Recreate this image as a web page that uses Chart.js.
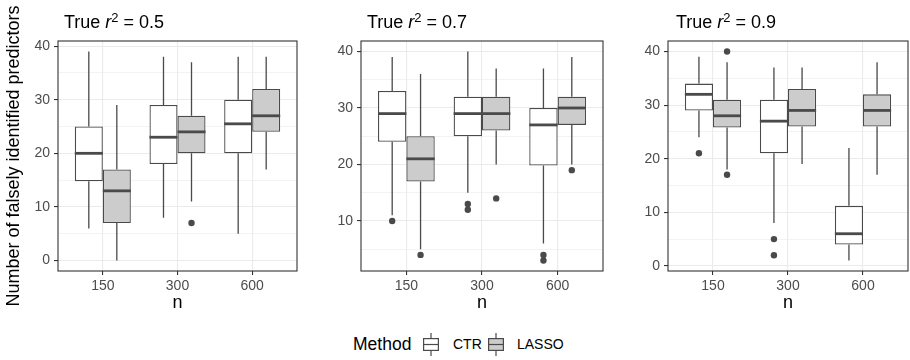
<!DOCTYPE html>
<html>
<head>
<meta charset="utf-8">
<script src="https://cdn.jsdelivr.net/npm/chart.js@4.4.1/dist/chart.umd.min.js"></script>
<style>
    body { margin: 0; background: #fff; font-family: "Liberation Sans", Arial, sans-serif; }
    #page { position: relative; width: 910px; height: 360px; overflow: hidden; }
    canvas { position: absolute; top: 0; }
    .ttl { position: absolute; top: 13px; font-size: 18px; line-height: 18px; color: #000; white-space: nowrap; }
    .ttl sup { font-size: 0.72em; line-height: 0; vertical-align: 0.48em; }
    .leg { position: absolute; white-space: nowrap; color: #000; }
</style>
</head>
<body>
<div id="page">
    <canvas id="p1" width="300" height="320" style="left:0px"></canvas>
    <canvas id="p2" width="306" height="320" style="left:300px"></canvas>
    <canvas id="p3" width="304" height="320" style="left:606px"></canvas>
    <div class="ttl" style="left:64px">True <i>r</i><sup>2</sup> = 0.5</div>
    <div class="ttl" style="left:367px">True <i>r</i><sup>2</sup> = 0.7</div>
    <div class="ttl" style="left:676px">True <i>r</i><sup>2</sup> = 0.9</div>

    <div class="leg" style="left:353px; top:334px; font-size:17.5px; line-height:20px">Method</div>
    <svg class="leg" style="left:422px; top:333px" width="18" height="23">
        <line x1="9" y1="0" x2="9" y2="23" stroke="#4a4a4a" stroke-width="1.2"/>
        <rect x="1.6" y="5.6" width="14.8" height="11.8" fill="#ffffff" stroke="#4a4a4a" stroke-width="1.2"/>
        <line x1="1.6" y1="11.5" x2="16.4" y2="11.5" stroke="#4a4a4a" stroke-width="1.2"/>
    </svg>
    <div class="leg" style="left:453px; top:336px; font-size:14px; line-height:16px">CTR</div>
    <svg class="leg" style="left:487px; top:333px" width="18" height="23">
        <line x1="9" y1="0" x2="9" y2="23" stroke="#4a4a4a" stroke-width="1.2"/>
        <rect x="1.6" y="5.6" width="14.8" height="11.8" fill="#cccccc" stroke="#4a4a4a" stroke-width="1.2"/>
        <line x1="1.6" y1="11.5" x2="16.4" y2="11.5" stroke="#4a4a4a" stroke-width="1.2"/>
    </svg>
    <div class="leg" style="left:517px; top:336px; font-size:14px; line-height:16px">LASSO</div>
</div>

<script>
const categories = ['150', '300', '600'];
const catPos = [1, 2, 3];
const methodNames = ['CTR', 'LASSO'];
const methodFills = ['#ffffff', '#cccccc'];

// per n: [lower whisker, Q1, median, Q3, upper whisker]
const ctr05 = [[6, 14.8, 20, 25, 39], [8, 18, 23, 29, 38], [5, 20, 25.5, 30, 38]];
const lasso05 = [[0, 7, 13, 17, 29], [11, 20, 24, 27, 37], [17, 24, 27, 32, 38]];
const ctrOut05 = [[], [], []];
const lassoOut05 = [[], [7], []];

const ctr07 = [[11, 24, 29, 33, 39], [15, 25, 29, 32, 40], [6, 19.8, 27, 30, 37]];
const lasso07 = [[5, 17, 21, 25, 36], [20, 26, 29, 32, 37], [20, 27, 30, 32, 39]];
const ctrOut07 = [[10], [13, 12], [4, 3]];
const lassoOut07 = [[4], [14], [19]];

const ctr09 = [[24, 29, 32, 34, 39], [8, 21, 27, 31, 37], [1, 4, 6, 11.2, 22]];
const lasso09 = [[18, 25.8, 28, 31, 38], [19, 26, 29, 33, 37], [17, 26, 29, 32, 38]];
const ctrOut09 = [[21], [5, 2], []];
const lassoOut09 = [[40, 17], [], []];

const yMajor05 = [0, 10, 20, 30, 40];
const yMajor07 = [10, 20, 30, 40];
const yMajor09 = [0, 10, 20, 30, 40];
const yMinor = [5, 15, 25, 35];

const lineColor = '#4a4a4a';
const frameColor = '#333333';
const gridColor = '#ebebeb';
const fontFamily = '"Liberation Sans", Arial, sans-serif';

const boxplotParts = {
    id: 'boxplotParts',
    afterDatasetsDraw(chart) {
        const ctx = chart.ctx;
        const y = chart.scales.y;
        chart.data.datasets.forEach((ds, i) => {
            const meta = chart.getDatasetMeta(i);
            meta.data.forEach((bar, j) => {
                const s = ds.stats[j];
                const x = bar.x;
                const half = bar.width / 2;
                ctx.save();
                ctx.strokeStyle = lineColor;
                ctx.lineWidth = 1.3;
                ctx.beginPath();
                ctx.moveTo(x, y.getPixelForValue(s[0]));
                ctx.lineTo(x, y.getPixelForValue(s[1]));
                ctx.moveTo(x, y.getPixelForValue(s[3]));
                ctx.lineTo(x, y.getPixelForValue(s[4]));
                ctx.stroke();
                ctx.lineWidth = 2.8;
                ctx.beginPath();
                ctx.moveTo(x - half, y.getPixelForValue(s[2]));
                ctx.lineTo(x + half, y.getPixelForValue(s[2]));
                ctx.stroke();
                ctx.fillStyle = lineColor;
                ds.outliers[j].forEach(v => {
                    ctx.beginPath();
                    ctx.arc(x, y.getPixelForValue(v), 3.2, 0, Math.PI * 2);
                    ctx.fill();
                });
                ctx.restore();
            });
        });
        const a = chart.chartArea;
        ctx.save();
        ctx.strokeStyle = frameColor;
        ctx.lineWidth = 1.1;
        ctx.strokeRect(a.left, a.top, a.right - a.left, a.bottom - a.top);
        ctx.restore();
    }
};

function makeDataset(k, stats, outliers) {
    return {
        label: methodNames[k],
        data: stats.map((s, j) => ({ x: catPos[j], y: [s[1], s[3]] })),
        stats: stats,
        outliers: outliers,
        backgroundColor: methodFills[k],
        borderColor: lineColor,
        borderWidth: 1.3,
        borderSkipped: false,
        categoryPercentage: 0.75,
        barPercentage: 1.0
    };
}

function makePanel(id, ctr, lasso, ctrOut, lassoOut, yMajor, yMin, yMax, yWidth, padRight, showYTitle) {
    new Chart(document.getElementById(id), {
        type: 'bar',
        data: {
            datasets: [makeDataset(0, ctr, ctrOut), makeDataset(1, lasso, lassoOut)]
        },
        options: {
            responsive: false,
            animation: false,
            devicePixelRatio: 1,
            events: [],
            layout: { padding: { top: 41, right: padRight, bottom: 4, left: 0 } },
            plugins: { legend: { display: false }, tooltip: { enabled: false } },
            scales: {
                x: {
                    type: 'linear',
                    min: 0.4,
                    max: 3.6,
                    offset: false,
                    afterBuildTicks: s => { s.ticks = catPos.map(v => ({ value: v })); },
                    afterFit: s => { s.height = 45; },
                    ticks: {
                        callback: v => categories[catPos.indexOf(v)],
                        color: '#4d4d4d',
                        font: { family: fontFamily, size: 14 },
                        padding: 3,
                        maxRotation: 0
                    },
                    grid: { offset: false, color: gridColor, lineWidth: 1.1, tickColor: frameColor, tickLength: 4 },
                    border: { display: false },
                    title: {
                        display: true,
                        text: 'n',
                        color: '#000',
                        font: { family: fontFamily, size: 18 },
                        padding: { top: 0, bottom: 2 }
                    }
                },
                y: {
                    min: yMin,
                    max: yMax,
                    afterBuildTicks: s => {
                        s.ticks = yMajor.concat(yMinor).filter(v => v > yMin && v < yMax)
                            .sort((a, b) => a - b).map(v => ({ value: v }));
                    },
                    afterFit: s => { s.width = yWidth; },
                    ticks: {
                        callback: v => (yMajor.includes(v) ? String(v) : ''),
                        color: '#4d4d4d',
                        font: { family: fontFamily, size: 14 },
                        padding: 4
                    },
                    grid: {
                        color: gridColor,
                        lineWidth: c => (yMajor.includes(c.tick.value) ? 1.1 : 0.6),
                        tickColor: c => (yMajor.includes(c.tick.value) ? frameColor : 'rgba(0,0,0,0)'),
                        tickLength: 4
                    },
                    border: { display: false },
                    title: {
                        display: showYTitle,
                        text: 'Number of falsely identified predictors',
                        color: '#000',
                        font: { family: fontFamily, size: 18 },
                        padding: { top: 3, bottom: 0 }
                    }
                }
            }
        },
        plugins: [boxplotParts]
    });
}

makePanel('p1', ctr05, lasso05, ctrOut05, lassoOut05, yMajor05, -1.95, 40.95, 58, 3, true);
makePanel('p2', ctr07, lasso07, ctrOut07, lassoOut07, yMajor07, 1.15, 41.85, 61, 3, false);
makePanel('p3', ctr09, lasso09, ctrOut09, lassoOut09, yMajor09, -0.95, 41.95, 62, 2, false);
</script>
</body>
</html>
